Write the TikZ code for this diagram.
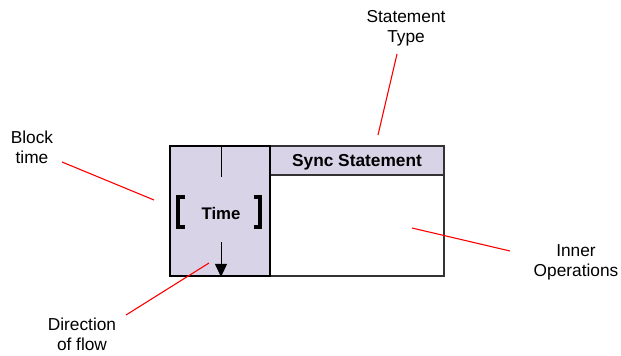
\documentclass[tikz,border=0pt]{standalone}
\usepackage{fontspec}
\setmainfont{Liberation Sans}
\usetikzlibrary{arrows.meta}
\definecolor{lav}{RGB}{217,211,231}

\begin{document}
\begin{tikzpicture}[x=1pt,y=-1pt,
  every node/.style={font=\fontsize{17.3}{20}\selectfont},
  lbl/.style={align=center},
  boldtxt/.style={font=\fontsize{17.3}{20}\selectfont\bfseries},
  lead/.style={red,line width=1.1pt}]
\useasboundingbox (0,0) rectangle (621,356);
\node [draw=black!80, line width=1.5pt, minimum width=274pt,
    minimum height=130pt] (frame) at (307,211){};
\node [draw=black!80, fill=lav, line width=1.3pt, minimum width=174pt,
    minimum height=29pt, text depth=0pt, boldtxt] (sync) at (357,160.5){Sync Statement};
\node [draw, fill=lav, line width=1.8pt, minimum width=100pt,
    minimum height=130pt] (blk) at (220,211){};
\node [boldtxt, font=\fontsize{16.8}{20}\selectfont\bfseries] (time) at (221,213){Time};
\draw [line width=1pt] (time |- blk.north) -- ++(0,32);
\coordinate (flowTop) at (221,242);
\draw [line width=1pt, -{Triangle[length=13pt,width=12pt]}] (flowTop) -- (time |- blk.south);
\draw [line width=3.8pt] (184.5,197) -| (178,227) -- (184.5,227);
\draw [line width=3.8pt] (253.5,197) -| (260,227) -- (253.5,227);
\node [lbl] (typeLbl) at (406,28) {Statement\\Type};
\node [lbl] (blockLbl) at (32,147) {Block\\time};
\node [lbl] (flowLbl) at (82,334) {Direction\\of flow};
\node [lbl] (innerLbl) at (576,262) {Inner\\Operations};
\coordinate (typeA) at (397,54);
\coordinate (typeB) at (378,135);
\coordinate (blockA) at (62,162);
\coordinate (blockB) at (154,200);
\coordinate (flowA) at (126,315);
\coordinate (flowB) at (209,263);
\coordinate (innerA) at (510,251);
\coordinate (innerB) at (412,228);
\draw [lead] (typeA) -- (typeB);
\draw [lead] (blockA) -- (blockB);
\draw [lead] (flowA) -- (flowB);
\draw [lead] (innerA) -- (innerB);
\end{tikzpicture}
\end{document}
